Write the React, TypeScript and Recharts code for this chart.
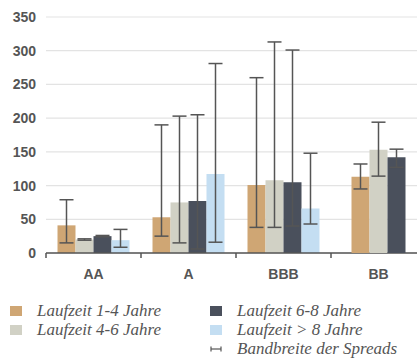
import React from 'react';
import { BarChart, Bar, XAxis, YAxis, CartesianGrid, ErrorBar } from 'recharts';

const categories = ['AA', 'A', 'BBB', 'BB'];
const seriesNames = ['Laufzeit 1-4 Jahre', 'Laufzeit 4-6 Jahre', 'Laufzeit 6-8 Jahre', 'Laufzeit > 8 Jahre'];
const seriesColors = ['#CFA674', '#D1D1C5', '#4A505C', '#C4DEF2'];
const errorLabel = 'Bandbreite der Spreads';

const s1 = [41, 53, 101, 113];
const s1Low = [15, 25, 38, 95];
const s1High = [79, 190, 260, 132];

const s2 = [20, 75, 108, 153];
const s2Low = [19, 15, 38, 114];
const s2High = [21, 203, 313, 194];

const s3 = [25, 77, 105, 142];
const s3Low = [24, 6, 40, 127];
const s3High = [26, 205, 301, 154];

const s4: (number | null)[] = [19, 117, 66, null];
const s4Low: (number | null)[] = [8.5, 16, 43, null];
const s4High: (number | null)[] = [35, 281, 148, null];

const yTicks = [0, 50, 100, 150, 200, 250, 300, 350];

const values = [s1, s2, s3, s4];
const lows = [s1Low, s2Low, s3Low, s4Low];
const highs = [s1High, s2High, s3High, s4High];

// full groups (4 bars) and short groups (3 bars, centered in category)
const isShort = (i: number) => s4[i] == null;

const buildRow = (i: number, include: boolean) => {
  const row: any = { cat: categories[i] };
  values.forEach((arr, k) => {
    const v = arr[i];
    if (include && v != null) {
      row['v' + k] = v;
      row['e' + k] = [v - (lows[k][i] as number), (highs[k][i] as number) - v];
    } else {
      row['v' + k] = null;
      row['e' + k] = null;
    }
  });
  return row;
};

const dataFull = categories.map((_, i) => buildRow(i, !isShort(i)));
const dataShort = categories.map((_, i) => buildRow(i, isShort(i)));

const W = 426;
const H = 283;
const AXIS_COLOR = '#555';
const sansFont = '"Liberation Sans", Arial, Helvetica, sans-serif';
const serifFont = '"Liberation Serif", "Times New Roman", serif';

const CatTick = (props: any) => {
  const { x, y, payload } = props;
  const half = payload && payload.offset ? payload.offset : 0;
  return (
    <g>
      <line x1={x - half} x2={x - half} y1={y} y2={y + 5} stroke={AXIS_COLOR} strokeWidth={1.5} />
      <text x={x} y={y + 26} textAnchor="middle" fill="#555" fontSize={14} fontWeight="bold" fontFamily={sansFont}>
        {payload.value}
      </text>
    </g>
  );
};

const renderBars = (count: number) =>
  [0, 1, 2, 3].slice(0, count).map((k) => (
    <Bar key={k} dataKey={'v' + k} fill={seriesColors[k]} isAnimationActive={false}>
      <ErrorBar dataKey={'e' + k} width={7} stroke="#555" strokeWidth={1.5} direction="y" />
    </Bar>
  ));

const LegendItem = ({ color, label, error }: { color?: string; label: string; error?: boolean }) => (
  <div style={{ display: 'flex', alignItems: 'center', height: 19 }}>
    {error ? (
      <svg width={12} height={10} style={{ marginRight: 15, flexShrink: 0 }}>
        <line x1={1} x2={11} y1={5} y2={5} stroke="#555" strokeWidth={1.2} />
        <line x1={1} x2={1} y1={2.5} y2={7.5} stroke="#555" strokeWidth={1.2} />
        <line x1={11} x2={11} y1={2.5} y2={7.5} stroke="#555" strokeWidth={1.2} />
      </svg>
    ) : (
      <div style={{ width: 12, height: 10, background: color, marginRight: 15, flexShrink: 0 }} />
    )}
    <span style={{ fontFamily: serifFont, fontStyle: 'italic', fontSize: 17, color: '#555', whiteSpace: 'nowrap' }}>
      {label}
    </span>
  </div>
);

export default function App() {
  return (
    <div
      style={{
        position: 'fixed',
        left: 0,
        top: 0,
        width: 417,
        height: 358,
        overflow: 'hidden',
        background: '#fff',
      }}
    >
      <div style={{ position: 'absolute', left: 0, top: 0 }}>
        <BarChart
          width={W}
          height={H}
          data={dataFull}
          margin={{ top: 17, right: 0, bottom: 0, left: 0 }}
          barCategoryGap={11.5}
          barGap={0}
        >
          <CartesianGrid horizontal vertical={false} stroke="#e3e3e3" strokeWidth={1.2} />
          <YAxis
            domain={[0, 350]}
            ticks={yTicks}
            width={46}
            axisLine={false}
            tickLine={false}
            tickSize={8}
            interval={0}
            tick={{ fill: '#555', fontSize: 14, fontWeight: 'bold', fontFamily: sansFont }}
          />
          <XAxis
            dataKey="cat"
            height={30}
            axisLine={{ stroke: AXIS_COLOR, strokeWidth: 1.5 }}
            tickLine={false}
            tickSize={0}
            tickMargin={0}
            interval={0}
            tick={<CatTick />}
          />
          {renderBars(4)}
        </BarChart>
      </div>
      <div style={{ position: 'absolute', left: 0, top: 0 }}>
        <BarChart
          width={W}
          height={H}
          data={dataShort}
          margin={{ top: 17, right: 0, bottom: 30, left: 46 }}
          barCategoryGap={20.5}
          barGap={0}
        >
          <YAxis hide domain={[0, 350]} ticks={yTicks} />
          <XAxis hide dataKey="cat" />
          {renderBars(3)}
        </BarChart>
      </div>
      <div style={{ position: 'absolute', left: 10, top: 301 }}>
        <LegendItem color={seriesColors[0]} label={seriesNames[0]} />
        <LegendItem color={seriesColors[1]} label={seriesNames[1]} />
      </div>
      <div style={{ position: 'absolute', left: 210, top: 301 }}>
        <LegendItem color={seriesColors[2]} label={seriesNames[2]} />
        <LegendItem color={seriesColors[3]} label={seriesNames[3]} />
        <LegendItem error label={errorLabel} />
      </div>
    </div>
  );
}
